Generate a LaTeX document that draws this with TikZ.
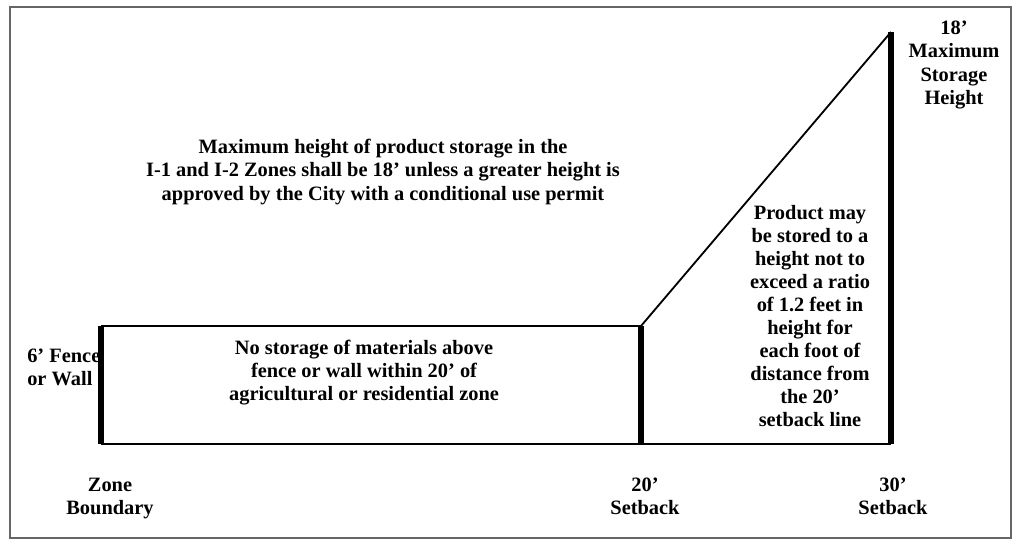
\documentclass[tikz,border=0pt]{standalone}
\usepackage{fontspec}
\setmainfont{Liberation Serif}
\usetikzlibrary{calc}

\begin{document}
\begin{tikzpicture}[
        x=0.025cm, y=-0.025cm,
        txt/.style={font=\bfseries\fontsize{14.5}{16.4}\selectfont, align=center, inner sep=0pt},
        edge/.style={line width=1.3pt},
        post/.style={line width=3.6pt},
        frame/.style={draw=black!60, line width=1.2pt}
    ]
    \useasboundingbox (0,0) rectangle (1016,544);
    \draw [frame] (10,7) rectangle (1011,538);

    % --- POINTS ---
    \coordinate (fence_top) at (101,326);
    \coordinate (fence_base) at (101,444);
    \coordinate (sb20_top) at (641,326);
    \coordinate (sb20_base) at (641,444);
    \coordinate (apex) at (891,32);
    \coordinate (sb30_base) at (891,444);

    % --- TEXT ---
    \node (max_note) [txt] at (383,172) {Maximum height of product storage in the\\I-1 and I-2 Zones shall be 18' unless a greater height is\\approved by the City with a conditional use permit};
    \node (no_store) [txt] at (364,373) {No storage of materials above\\fence or wall within 20' of\\agricultural or residential zone};
    \node (ratio) [txt] at (810,316) {Product may\\be stored to a\\height not to\\exceed a ratio\\of 1.2 feet in\\height for\\each foot of\\distance from\\the 20'\\setback line};
    \node (max_h) [txt] at (954,65) {18'\\Maximum\\Storage\\Height};
    \node (fence) [txt, anchor=west, align=left] at (27,367) {6' Fence\\or Wall};
    \node (zone) [txt, anchor=north] at (110,478) {Zone\\Boundary};
    \node (sb20) [txt, anchor=north] at (645,478) {20'\\Setback};
    \node (sb30) [txt, anchor=north] at (893,478) {30'\\Setback};

    % --- LINES ---
    \draw [edge] (fence_top) -- (sb20_top) -- (apex);
    \draw [edge] (fence_base) -- (sb30_base);
    \draw [post] (fence_top) -- (fence_base);
    \draw [post] (sb20_top) -- (sb20_base);
    \draw [post] (apex) -- (sb30_base);

\end{tikzpicture}
\end{document}
